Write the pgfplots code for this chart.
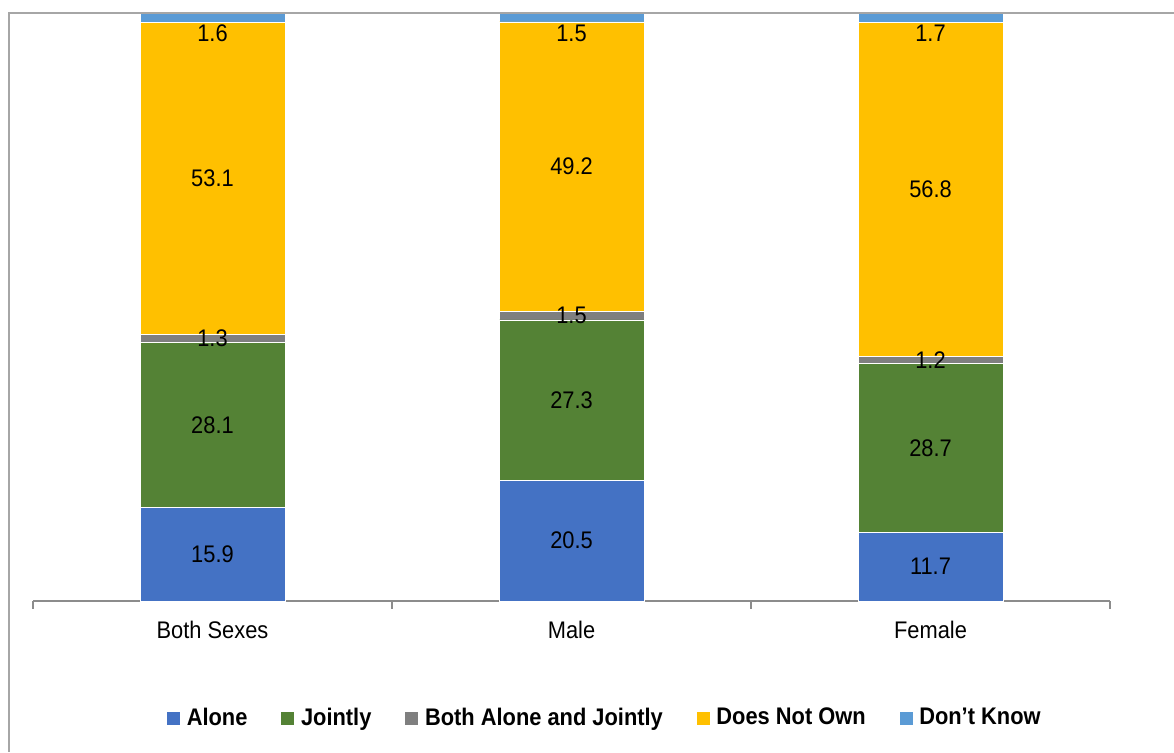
\documentclass[border=0pt]{standalone}
\usepackage{pgfplots}
\pgfplotsset{compat=1.18}
\usepackage{pgfplotstable}
\usepackage{fontspec}
\setmainfont[FakeStretch=0.91]{Liberation Sans}
\definecolor{cAlone}{HTML}{4472C4}
\definecolor{cJoint}{HTML}{548235}
\definecolor{cBoth}{HTML}{7F7F7F}
\definecolor{cNot}{HTML}{FFC000}
\definecolor{cDK}{HTML}{5B9BD5}
\definecolor{framegray}{HTML}{A6A6A6}
\definecolor{axisgray}{HTML}{8C8C8C}

\pgfplotstableread{
x alone jointly both notown dk
0 15.9 28.1 1.3 53.1 1.6
1 20.5 27.3 1.5 49.2 1.5
2 11.7 28.7 1.2 56.8 1.7
}\data

\pgfplotstableread{
x y lab
0 7.95 15.9
0 29.95 28.1
0 44.65 1.3
0 71.85 53.1
0 96.5 1.6
1 10.25 20.5
1 34.15 27.3
1 48.55 1.5
1 73.9 49.2
1 96.6 1.5
2 5.85 11.7
2 26.05 28.7
2 41.0 1.2
2 70.0 56.8
2 96.6 1.7
}\labels

\pgfplotsset{sq/.style={legend image code/.code={\fill[##1] (0pt,-3.5pt) rectangle (7pt,3.5pt);}}}

\begin{document}
\begin{tikzpicture}
\useasboundingbox (0,0) rectangle (587pt,376pt);
\begin{axis}[
  at={(16.5pt,75.5pt)}, anchor=south west,
  scale only axis, width=538.5pt, height=294pt,
  ybar stacked, bar width=72.5pt,
  xmin=-0.5, xmax=2.5, ymin=0, ymax=100,
  axis y line=none, axis x line*=bottom,
  x axis line style={draw=axisgray, line width=0.75pt},
  xtick={0,1,2}, xticklabels={Both Sexes, Male, Female},
  major tick length=0pt,
  minor xtick={-0.5,0.5,1.5,2.5}, minor tick length=3.8pt,
  tick align=outside,
  minor tick style={draw=axisgray, line width=0.75pt},
  xticklabel style={font=\fontsize{12}{14}\selectfont, yshift=-6.5pt},
  clip=true,
  legend columns=-1,
  legend style={at={(0.531,-0.199)}, anchor=center, draw=none, fill=none,
    font=\bfseries\fontsize{12}{14}\selectfont,
    nodes={inner sep=1.5pt},
    /tikz/every odd column/.append style={column sep=1.5pt},
    /tikz/every even column/.append style={column sep=15pt}},
]
\addplot[fill=cAlone, draw=white, line width=0.3pt, sq] table[x=x,y=alone] {\data};
\addplot[fill=cJoint, draw=white, line width=0.3pt, sq] table[x=x,y=jointly] {\data};
\addplot[fill=cBoth, draw=white, line width=0.3pt, sq] table[x=x,y=both] {\data};
\addplot[fill=cNot, draw=white, line width=0.3pt, sq] table[x=x,y=notown] {\data};
\addplot[fill=cDK, draw=white, line width=0.3pt, sq] table[x=x,y=dk] {\data};
\legend{Alone, Jointly, Both Alone and Jointly, Does Not Own, Don’t Know}
\end{axis}
\begin{axis}[
  at={(16.5pt,75.5pt)}, anchor=south west,
  scale only axis, width=538.5pt, height=294pt,
  xmin=-0.5, xmax=2.5, ymin=0, ymax=100,
  hide axis, clip=false,
]
\addplot[draw=none, mark=none, only marks,
  point meta=explicit symbolic,
  nodes near coords,
  every node near coord/.style={anchor=center, inner sep=0pt, text=black, font=\fontsize{12}{14}\selectfont}]
  table[x=x,y=y,meta=lab] {\labels};
\end{axis}
\draw[framegray, line width=0.8pt] (4.5pt,0) -- (4.5pt,369.5pt) -- (587pt,369.5pt);
\end{tikzpicture}
\end{document}
